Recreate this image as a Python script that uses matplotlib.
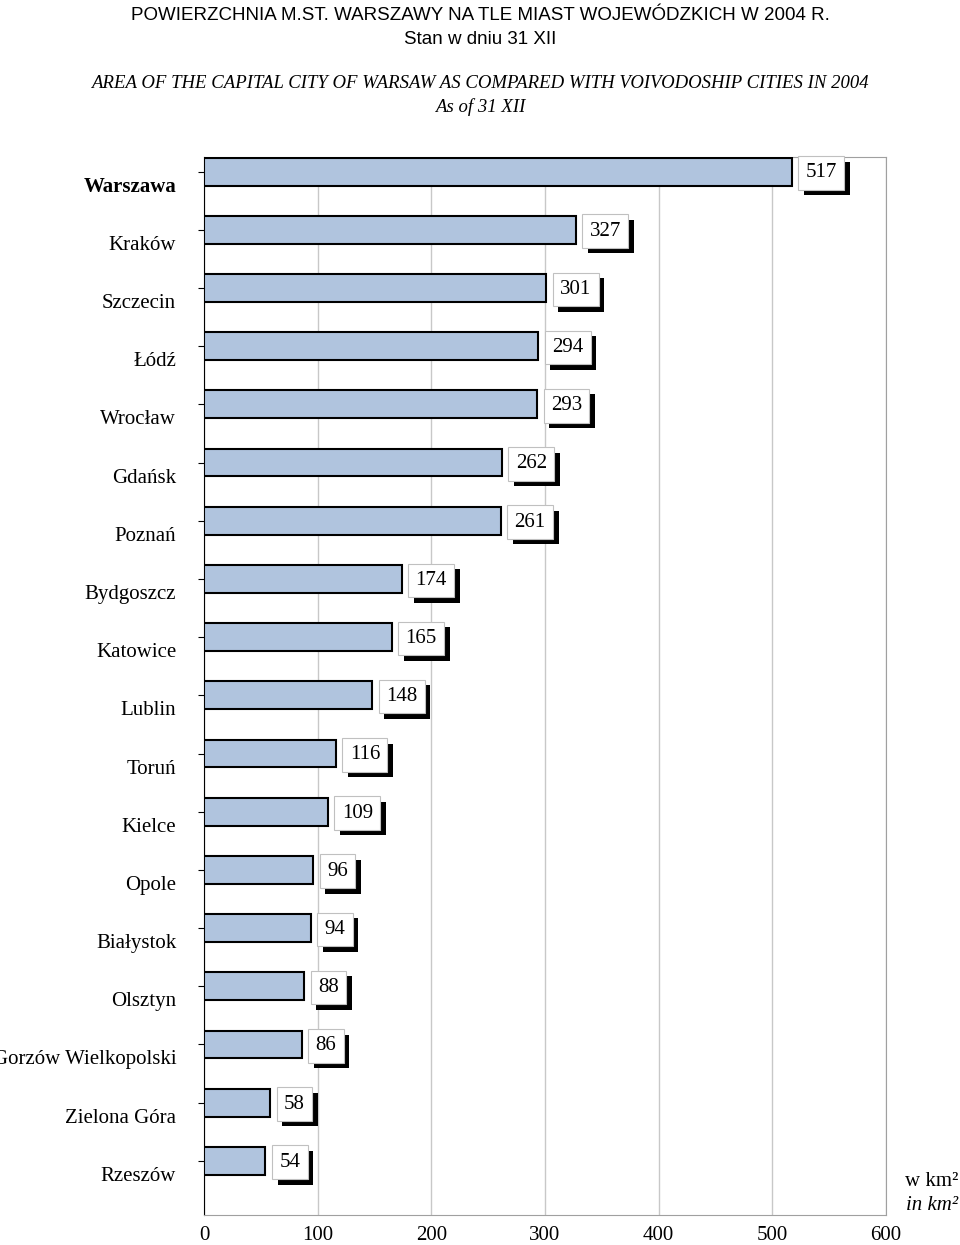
import matplotlib
matplotlib.use("Agg")
import matplotlib.pyplot as plt
import matplotlib.transforms as mtrans
import matplotlib.patheffects as pe

cities = ["Warszawa","Kraków","Szczecin","Łódź","Wrocław","Gdańsk","Poznań","Bydgoszcz",
          "Katowice","Lublin","Toruń","Kielce","Opole","Białystok","Olsztyn",
          "Gorzów Wielkopolski","Zielona Góra","Rzeszów"]
values = [517,327,301,294,293,262,261,174,165,148,116,109,96,94,88,86,58,54]
xticks = [0,100,200,300,400,500,600]

serif = "Liberation Serif"
fig = plt.figure(figsize=(9.6,12.45), dpi=100)
ax = fig.add_axes([204/960, 1-1215/1245, (886-204)/960, (1215-157)/1245])
n = len(cities)
ypos = list(range(n))
ax.barh(ypos, values, height=0.48, color="#b0c4de", edgecolor="black", linewidth=1.5, zorder=3)
ax.set_ylim(17.93, -0.25)
ax.set_xlim(0,600)
ax.set_xticks(xticks)
ax.set_xticklabels([str(t) for t in xticks], fontsize=15, family=serif)
ax.tick_params(axis="x", length=0, pad=8)
ax.set_yticks(ypos)
ax.set_yticklabels(cities, fontsize=15, family=serif)
ax.tick_params(axis="y", length=4, pad=16)
off = mtrans.ScaledTranslation(0, -13/100, fig.dpi_scale_trans)
for lab in ax.get_yticklabels():
    lab.set_transform(lab.get_transform()+off)
ax.get_yticklabels()[0].set_fontweight("bold")
ax.grid(axis="x", color="#c8c8c8", linewidth=1, zorder=0)
for s in ["top","right","bottom"]:
    ax.spines[s].set_color("#a0a0a0")
ax.spines["left"].set_color("black")

for y, v in zip(ypos, values):
    t = ax.annotate(str(v), (v, y), xytext=(10, -1), textcoords="offset points",
                    fontsize=15, family=serif, color="black", va="center", ha="left", zorder=5,
                    bbox=dict(boxstyle="square,pad=0.35", fc="white", ec="#c0c0c0", lw=0.8))
    t.get_bbox_patch().set_path_effects([pe.SimplePatchShadow(offset=(4,-4), shadow_rgbFace="black", alpha=1), pe.Normal()])

fig.text(0.5, 1-16/1245, "POWIERZCHNIA M.ST. WARSZAWY NA TLE MIAST WOJEWÓDZKICH W 2004 R.",
         ha="center", va="center", fontsize=13.5, family="Liberation Sans")
fig.text(0.5, 1-40/1245, "Stan w dniu 31 XII", ha="center", va="center", fontsize=13.5, family="Liberation Sans")
fig.text(0.5, 1-83/1245, "AREA OF THE CAPITAL CITY OF WARSAW AS COMPARED WITH VOIVODOSHIP CITIES IN 2004",
         ha="center", va="center", fontsize=13.5, family=serif, style="italic")
fig.text(0.5, 1-107/1245, "As of 31 XII", ha="center", va="center", fontsize=13.5, family=serif, style="italic")
fig.text(958/960, 1-1182/1245, "w km²", ha="right", va="center", fontsize=15, family=serif)
fig.text(958/960, 1-1205/1245, "in km²", ha="right", va="center", fontsize=15, family=serif, style="italic")
fig.savefig("out.png", dpi=100)
